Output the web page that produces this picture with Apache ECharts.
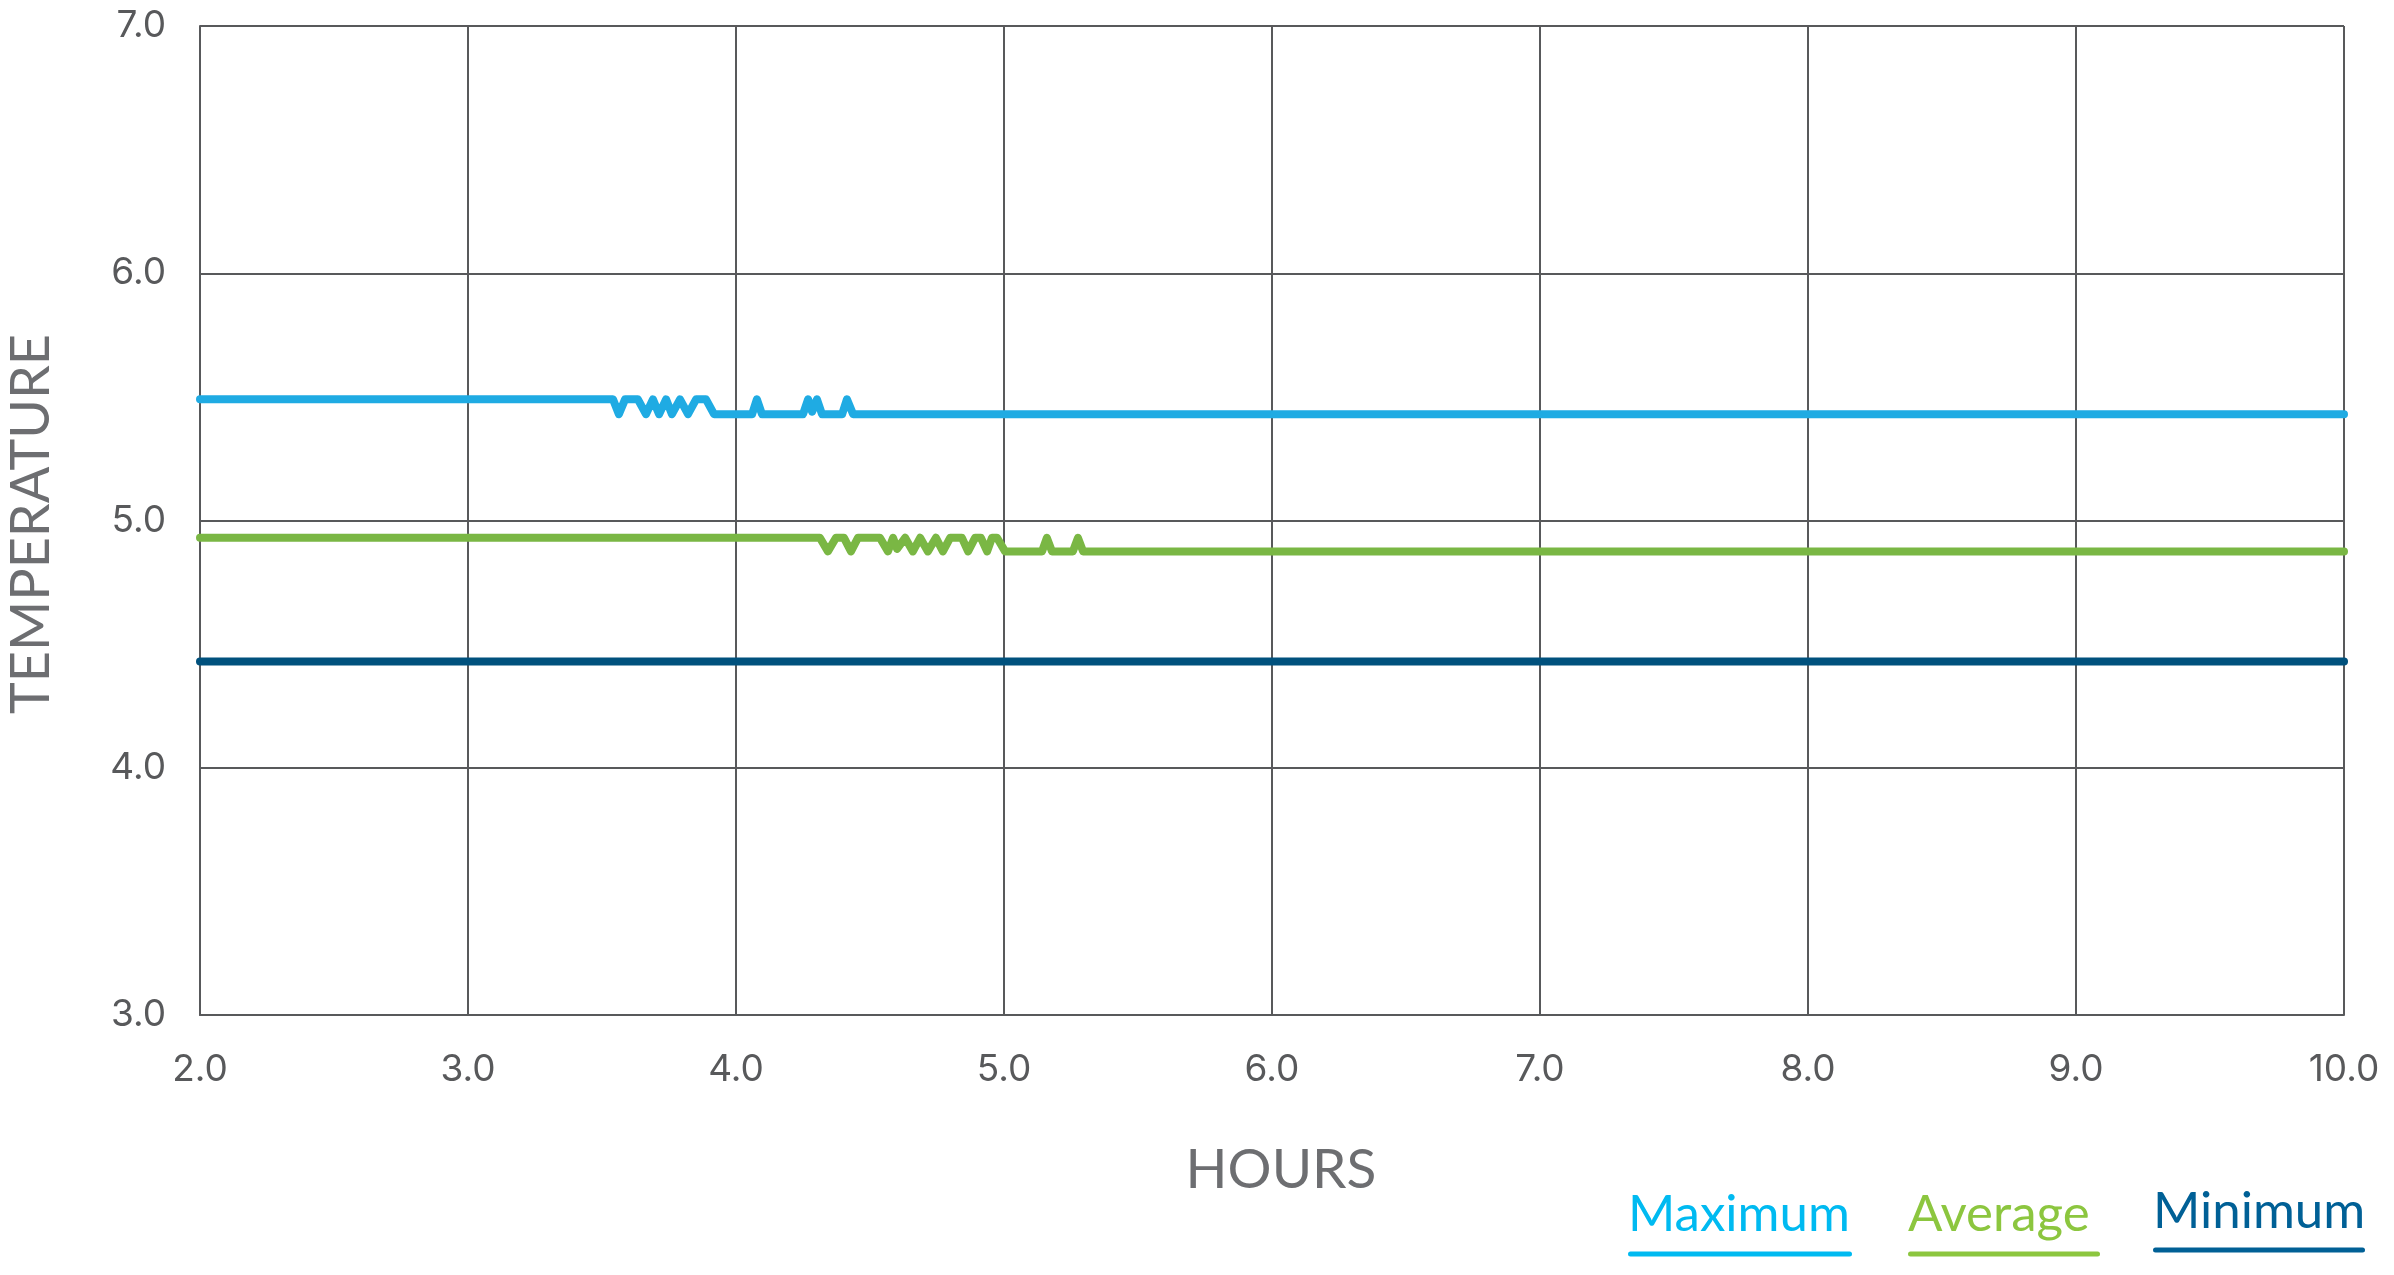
<!DOCTYPE html>
<html>
<head>
<meta charset="utf-8">
<script src="https://cdn.jsdelivr.net/npm/echarts@6/dist/echarts.min.js"></script>
<style>
html,body{margin:0;padding:0;background:#fff;}
#chart{width:2394px;height:1275px;}
</style>
</head>
<body>
<div id="chart"></div>
<script>
// ---- Data (hours -> temperature), change points of each trace ----
const xTicks = [2, 3, 4, 5, 6, 7, 8, 9, 10];
const yTicks = [3, 4, 5, 6, 7];

const maxHours = [2.0, 3.541, 3.563, 3.586, 3.634, 3.664, 3.690, 3.713, 3.739, 3.761, 3.791, 3.821, 3.851, 3.888, 3.918, 4.060, 4.078, 4.097, 4.250, 4.269, 4.284, 4.302, 4.321, 4.396, 4.414, 4.437, 10.0];
const maxTemps = [5.49, 5.49, 5.43, 5.49, 5.49, 5.43, 5.49, 5.43, 5.49, 5.43, 5.49, 5.43, 5.49, 5.49, 5.43, 5.43, 5.49, 5.43, 5.43, 5.49, 5.44, 5.49, 5.43, 5.43, 5.49, 5.43, 5.43];

const avgHours = [2.0, 4.313, 4.343, 4.373, 4.403, 4.429, 4.455, 4.537, 4.567, 4.586, 4.601, 4.631, 4.660, 4.687, 4.716, 4.746, 4.772, 4.799, 4.843, 4.866, 4.892, 4.914, 4.937, 4.955, 4.974, 5.004, 5.142, 5.160, 5.179, 5.257, 5.276, 5.295, 10.0];
const avgTemps = [4.93, 4.93, 4.875, 4.93, 4.93, 4.875, 4.93, 4.93, 4.875, 4.93, 4.885, 4.93, 4.875, 4.93, 4.875, 4.93, 4.875, 4.93, 4.93, 4.875, 4.93, 4.93, 4.875, 4.93, 4.93, 4.875, 4.875, 4.93, 4.875, 4.875, 4.93, 4.875, 4.875];

const minHours = [2.0, 10.0];
const minTemps = [4.43, 4.43];

const seriesNames = ['Maximum', 'Average', 'Minimum'];
const lineColors = ['#1fabe3', '#7ab744', '#00517d'];
const legendColors = ['#00baf1', '#8cc63f', '#006096'];

function pairs(xs, ys) { return xs.map((x, i) => [x, ys[i]]); }

const chart = echarts.init(document.getElementById('chart'), null, {renderer: 'canvas'});
const FONT = 'Lato';
const TICKFONT = 'Inter';
const gridLeft = 200, gridTop = 26, gridRight = 50, gridBottom = 260;

const legendItems = [
  {text: 'Maximum', x: 1628, w: 224, y: 1219, ly: 1254},
  {text: 'Average', x: 1908, w: 192, y: 1219, ly: 1254},
  {text: 'Minimum', x: 2153, w: 212, y: 1216, ly: 1250}
];
const graphics = [];
legendItems.forEach((it, i) => {
  graphics.push({
    type: 'text', left: it.x, top: it.y - 30,
    style: {text: it.text, fill: legendColors[i], font: '51px ' + FONT, textVerticalAlign: 'top'}
  });
  graphics.push({
    type: 'rect', shape: {x: it.x, y: it.ly - 2.5, width: it.w, height: 5, r: 2.5},
    style: {fill: legendColors[i]}
  });
});
graphics.push({
  type: 'text', x: 1281, y: 1170,
  style: {text: 'HOURS', fill: '#6d6e71', font: '55px ' + FONT, textAlign: 'center', textVerticalAlign: 'middle'}
});
graphics.push({
  type: 'text', x: 32, y: 524, rotation: Math.PI / 2,
  style: {text: 'TEMPERATURE', fill: '#6d6e71', font: '54px ' + FONT, textAlign: 'center', textVerticalAlign: 'middle'}
});

const option = {
  backgroundColor: '#ffffff',
  animation: false,
  grid: {left: gridLeft, top: gridTop, right: gridRight, bottom: gridBottom, containLabel: false},
  xAxis: {
    type: 'value', min: xTicks[0], max: xTicks[xTicks.length - 1], interval: 1,
    axisLine: {show: true, lineStyle: {color: '#58595b', width: 2}},
    axisTick: {show: false},
    axisLabel: {color: '#58595b', fontFamily: TICKFONT, fontSize: 37, margin: 36,
      formatter: v => v.toFixed(1)},
    splitLine: {show: true, showMinLine: true, showMaxLine: true, lineStyle: {color: '#58595b', width: 2}}
  },
  yAxis: {
    type: 'value', min: yTicks[0], max: yTicks[yTicks.length - 1], interval: 1,
    axisLine: {show: true, lineStyle: {color: '#58595b', width: 2}},
    axisTick: {show: false},
    axisLabel: {color: '#58595b', fontFamily: TICKFONT, fontSize: 37, margin: 34,
      formatter: v => v.toFixed(1)},
    splitLine: {show: true, showMinLine: true, showMaxLine: true, lineStyle: {color: '#58595b', width: 2}}
  },
  series: [
    {name: seriesNames[2], type: 'line', data: pairs(minHours, minTemps), showSymbol: false,
      lineStyle: {color: lineColors[2], width: 8, join: 'round', cap: 'round'}, z: 3},
    {name: seriesNames[1], type: 'line', data: pairs(avgHours, avgTemps), showSymbol: false,
      lineStyle: {color: lineColors[1], width: 8, join: 'round', cap: 'round'}, z: 4},
    {name: seriesNames[0], type: 'line', data: pairs(maxHours, maxTemps), showSymbol: false,
      lineStyle: {color: lineColors[0], width: 8, join: 'round', cap: 'round'}, z: 5}
  ],
  graphic: graphics
};
chart.setOption(option);
</script>
</body>
</html>
